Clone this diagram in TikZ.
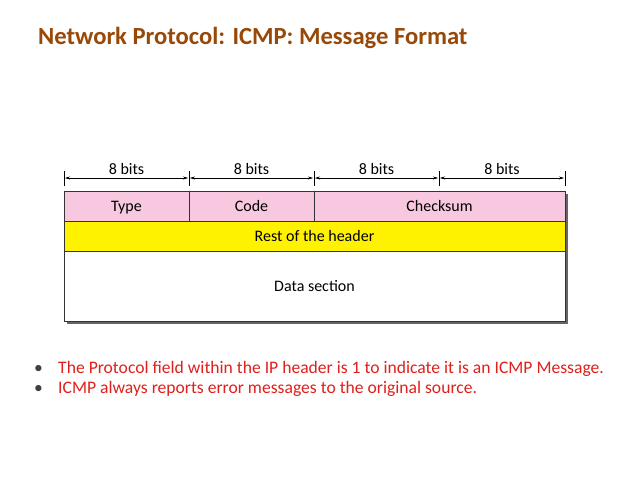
\documentclass[tikz,border=0pt]{standalone}
\usepackage{fontspec}
\setmainfont{Carlito}
\usetikzlibrary{arrows.meta}
\definecolor{titlec}{HTML}{984807}
\definecolor{pinkc}{HTML}{F8C8E0}
\definecolor{redc}{HTML}{E0201C}
\tikzset{field/.style={draw=black!80,line width=0.8pt,inner sep=0pt},
 lbl/.style={font=\fontsize{16}{18}\selectfont,text height=1.5ex,text depth=.3ex,yshift=-2.5pt},
 dim/.style={{Stealth[length=5pt,width=3pt]}-{Stealth[length=5pt,width=3pt]},line width=0.5pt},
 bul/.style={anchor=base west,text=redc,font=\fontsize{17.6}{20}\selectfont}}
\begin{document}
\begin{tikzpicture}[x=1pt,y=-1pt]
\useasboundingbox (0,0) rectangle (638,479);
\fill[white] (0,0) rectangle (638,479);
\node[anchor=base west,inner sep=0pt,text=titlec,font=\bfseries\fontsize{24.6}{28}\selectfont] (title) at (38,45) {Network Protocol: ICMP: Message Format};
% shadow
\fill[black!60] (67,321) rectangle (568,324);
\fill[black!60] (565,194) rectangle (568,324);
\draw[field,fill=pinkc] (64,191) rectangle (189,221) node[pos=.5,lbl] (type) {Type};
\draw[field,fill=pinkc] (189,191) rectangle (314,221) node[pos=.5,lbl] (code) {Code};
\draw[field,fill=pinkc] (314,191) rectangle (565,221) node[pos=.5,lbl] (cks) {Checksum};
\draw[field,fill=yellow] (64,221) rectangle (565,251) node[pos=.5,lbl] (rest) {Rest of the header};
\draw[field,fill=white] (64,251) rectangle (565,321) node[pos=.5,lbl] (data) {Data section};
\foreach \x [count=\i] in {64,189,314,439,565}{
  \coordinate (t\i) at (\x,178);
  \draw[line width=0.5pt] (\x,171) -- (\x,186);}
\foreach \a/\b in {1/2,2/3,3/4,4/5}{
  \draw[dim] ([xshift=1pt]t\a) -- ([xshift=-1pt]t\b) node[midway,lbl,above=1pt,yshift=0pt] {8 bits};}
\node[bul,text=black!75,inner sep=0pt] (b1) at (34,373) {•};
\node[bul,inner sep=0pt] (l1) at (58,373) {The Protocol field within the IP header is 1 to indicate it is an ICMP Message.};
\node[bul,text=black!75,inner sep=0pt] (b2) at (34,393) {•};
\node[bul,inner sep=0pt] (l2) at (58,393) {ICMP always reports error messages to the original source.};
\end{tikzpicture}
\end{document}
